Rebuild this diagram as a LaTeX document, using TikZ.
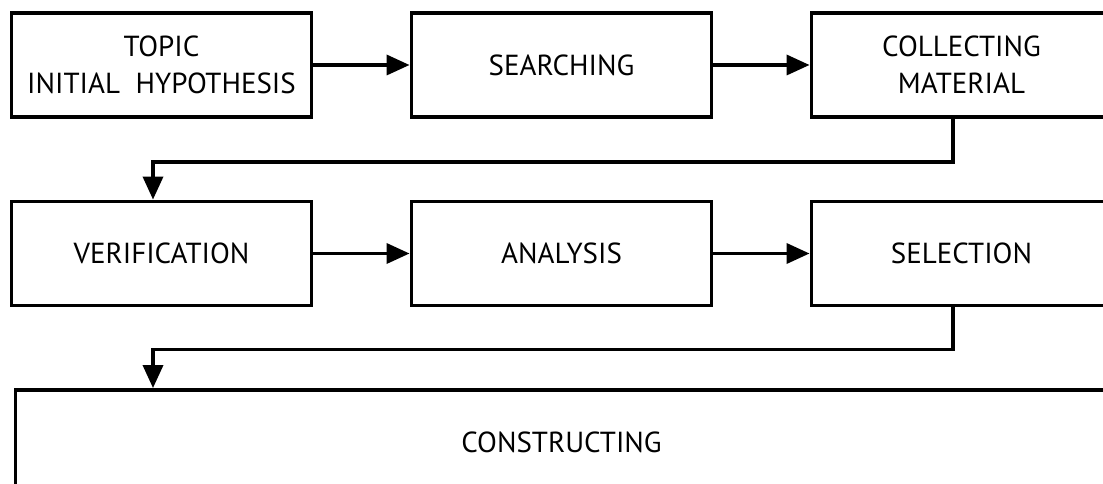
\documentclass[tikz,border=0pt]{standalone}
\usepackage{fontspec}
\setmainfont{PT Sans}
\usetikzlibrary{arrows.meta}

\begin{document}
\begin{tikzpicture}[node distance=8cm, auto,
    stage/.style={draw, rectangle, line width=2.2pt, minimum width=6cm, minimum height=2.08cm,
      align=center, font=\fontsize{16.5}{21}\selectfont},
    flow/.style={line width=2pt, -{Triangle[length=4.6mm, width=4mm]}}]
    \useasboundingbox (0,0) rectangle (22.06,-9.68);
    \begin{scope}
    \clip (0,0) rectangle (22.06,-9.68);
    \node (topic) [stage] at (3.23,-1.30) {TOPIC\\INITIAL~~HYPOTHESIS};
    \node (searching) [stage, right of=topic] {SEARCHING};
    \node (collecting) [stage, right of=searching] {COLLECTING\\MATERIAL};
    \node (verification) [stage, below of=topic, node distance=3.77cm] {VERIFICATION};
    \node (analysis) [stage, below of=searching, node distance=3.77cm] {ANALYSIS};
    \node (selection) [stage, below of=collecting, node distance=3.77cm] {SELECTION};
    \node (constructing) [stage, below of=analysis, node distance=3.77cm, minimum width=21.84cm] {CONSTRUCTING};
    \draw[flow] (topic) -- (searching);
    \draw[flow] (searching) -- (collecting);
    \draw[flow] ([xshift=-0.17cm]collecting.south) -- ++(0,-0.86) -| ([xshift=-0.17cm]verification.north);
    \draw[flow] (verification) -- (analysis);
    \draw[flow] (analysis) -- (selection);
    \draw[flow] ([xshift=-0.17cm]selection.south) -- ++(0,-0.84) -| ([xshift=-0.17cm]verification.south |- constructing.north);
    \end{scope}
  \end{tikzpicture}
\end{document}
